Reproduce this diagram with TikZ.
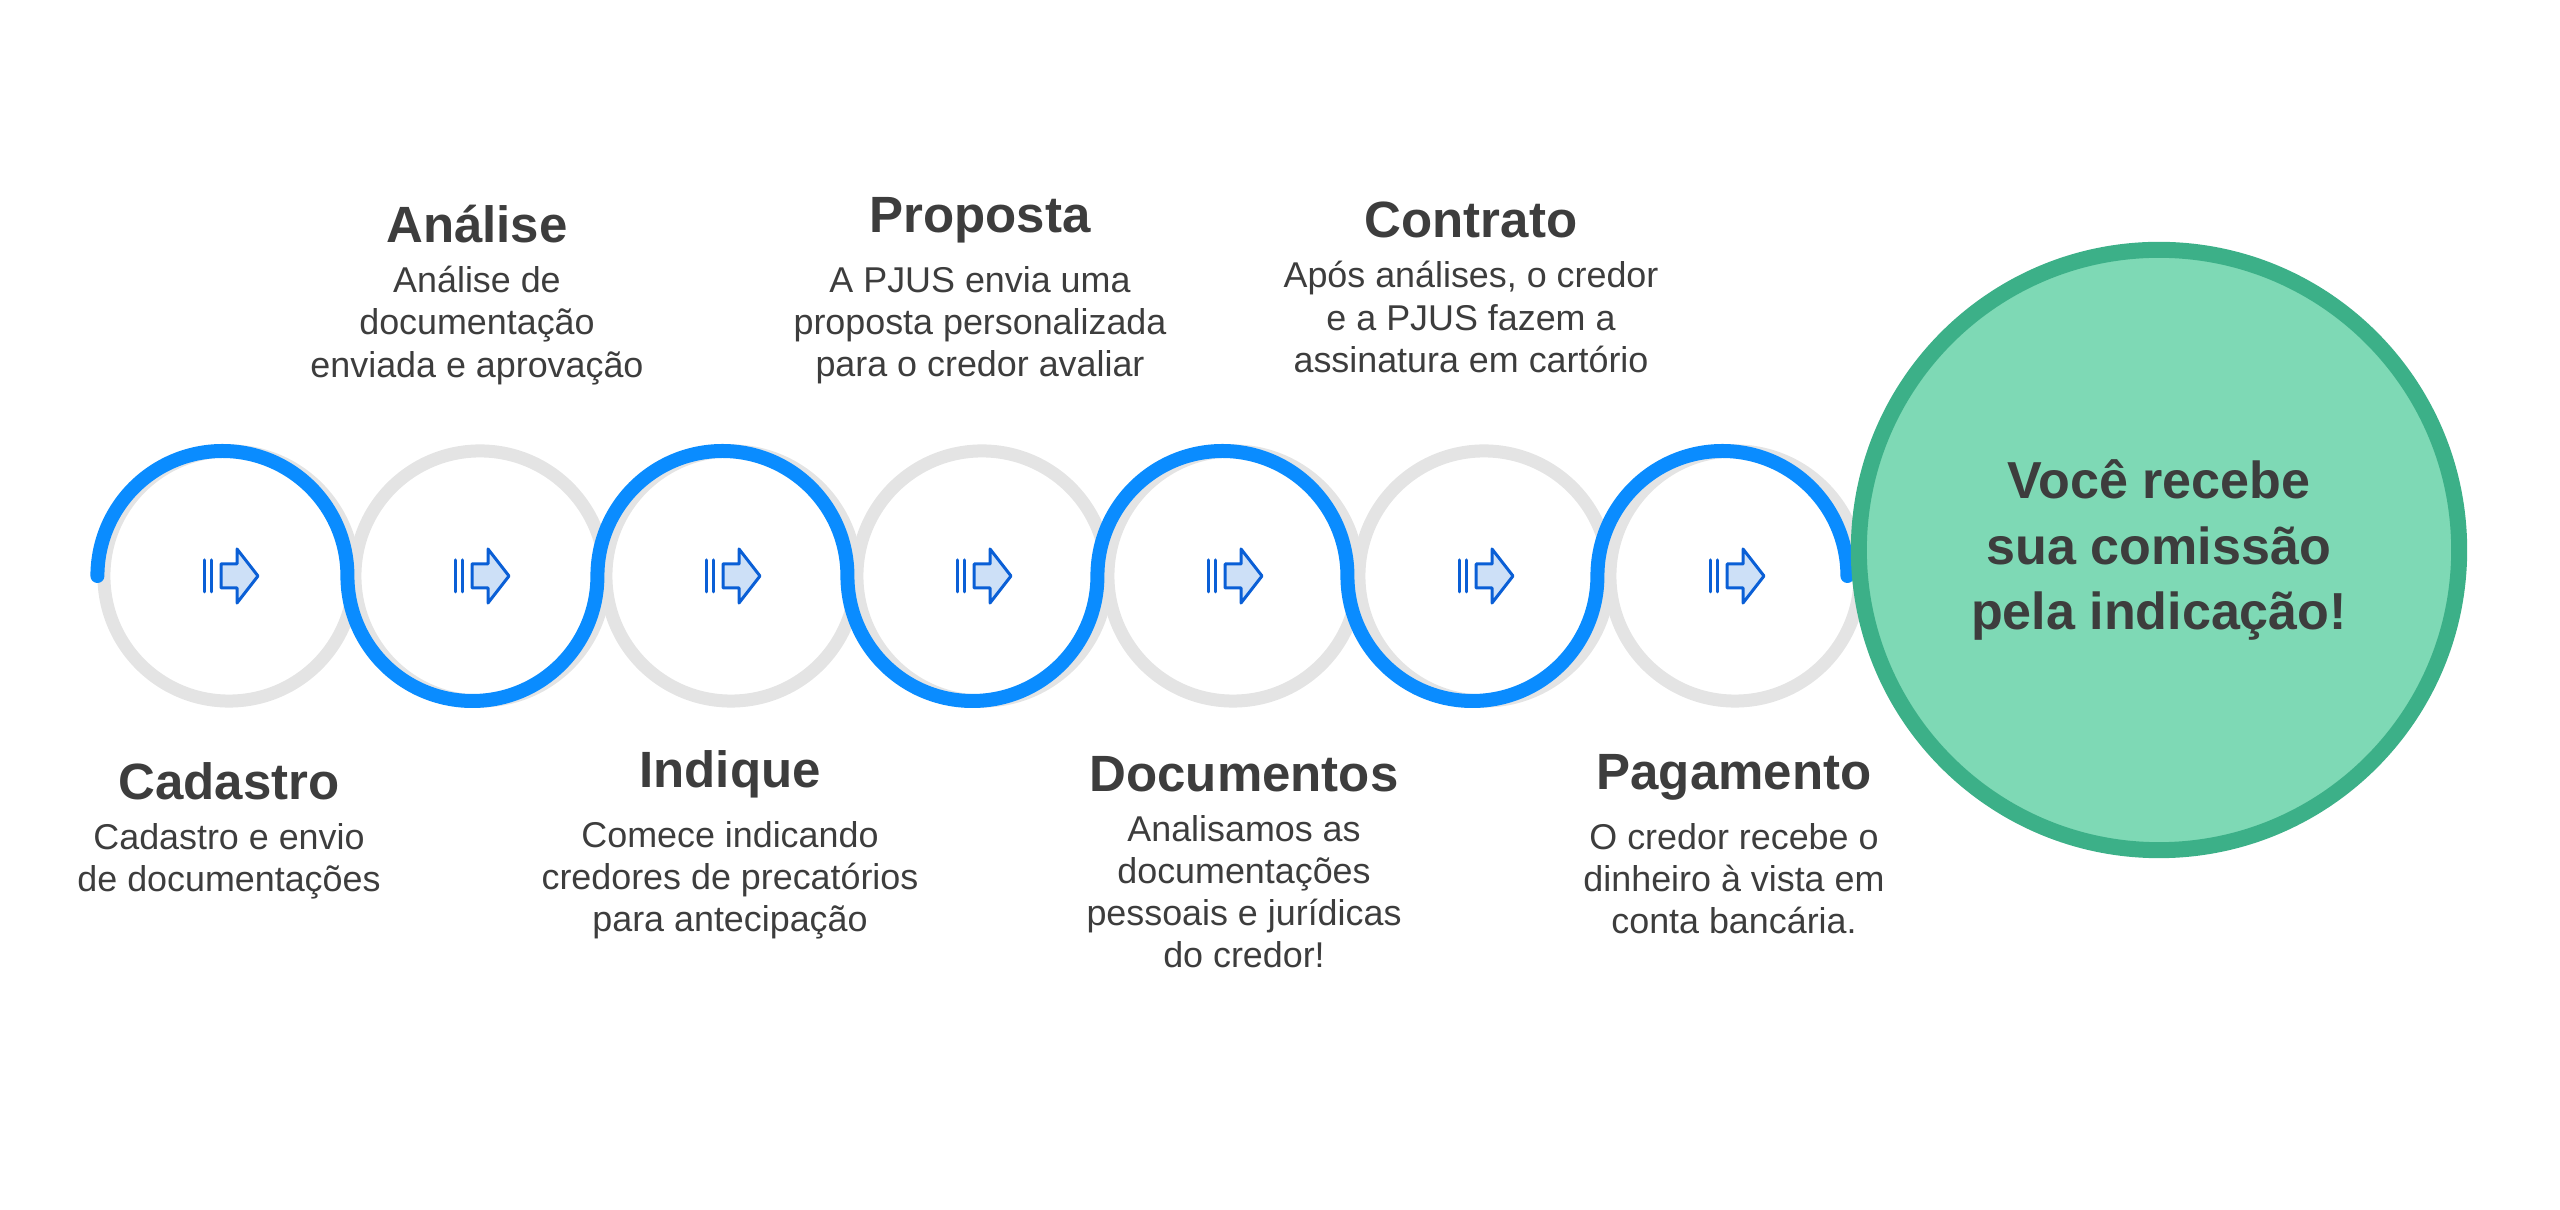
\documentclass[tikz,border=0pt]{standalone}
\usepackage{fontspec}
\setmainfont{Liberation Sans}
\usepackage{tikz}
\usetikzlibrary{positioning}

\definecolor{wave}{HTML}{0A8CFF}
\definecolor{ring}{HTML}{E4E4E4}
\definecolor{ink}{HTML}{3D3D3D}
\definecolor{icondark}{HTML}{0A5FD6}
\definecolor{iconfill}{HTML}{CDE0F7}
\definecolor{goalfill}{HTML}{7ED9B5}
\definecolor{goalline}{HTML}{3CB088}

\tikzset{
  stepring/.style={circle,draw=ring,line width=0.13cm,minimum size=2.5cm,inner sep=0},
  steptitle/.style={font=\fontsize{14.5}{16}\selectfont\bfseries,text=ink,inner sep=0},
  stepbody/.style={font=\fontsize{10.2}{12}\selectfont,text=ink,align=center,inner sep=0},
  icon/.pic={
    \draw[icondark,line width=0.03cm,line cap=round] (-25,-16) -- (-25,16) (-18,-16) -- (-18,16);
    \draw[icondark,line width=0.03cm,fill=iconfill,line join=round]
      (-8,-12) -- (8,-12) -- (8,-27) -- (29,0) -- (8,27) -- (8,12) -- (-8,12) -- cycle;
  }
}

\begin{document}
\begin{tikzpicture}[x=0.01cm,y=0.01cm]
\useasboundingbox (0,0) rectangle (2560,-1210);

\node[stepring] (c1) at (229,-576) {};
\node[stepring] (c2) at (480,-576) {};
\node[stepring] (c3) at (731,-576) {};
\node[stepring] (c4) at (982,-576) {};
\node[stepring] (c5) at (1233,-576) {};
\node[stepring] (c6) at (1484,-576) {};
\node[stepring] (c7) at (1735,-576) {};

% the wave over and under the rings
\draw[wave,line width=0.14cm,line cap=round] (c1.west)
  arc[start angle=180,end angle=0,radius=125]
  arc[start angle=180,end angle=360,radius=125]
  arc[start angle=180,end angle=0,radius=125]
  arc[start angle=180,end angle=360,radius=125]
  arc[start angle=180,end angle=0,radius=125]
  arc[start angle=180,end angle=360,radius=125]
  arc[start angle=180,end angle=0,radius=125];

\foreach \c in {c1,c2,c3,c4,c5,c6,c7}
  \pic at (\c) {icon};

\node[circle,draw=goalline,fill=goalfill,line width=0.16cm,minimum size=6cm,
  align=center,font=\fontsize{14.8}{18.6}\selectfont\bfseries,text=ink] (goal) at (2159,-550)
  {Você recebe\\sua comissão\\pela indicação!};

\node[steptitle] (t1) at (229,-781) {Cadastro};
\node[stepbody,below=0.22cm of t1] (b1) {Cadastro e envio\\de documentações};

\node[steptitle] (t2) at (477,-224) {Análise};
\node[stepbody,below=0.22cm of t2] (b2) {Análise de\\documentação\\enviada e aprovação};

\node[steptitle] (t3) at (730,-774) {Indique};
\node[stepbody,below=0.22cm of t3] (b3) {Comece indicando\\credores de precatórios\\para antecipação};

\node[steptitle] (t4) at (980,-220) {Proposta};
\node[stepbody,below=0.22cm of t4] (b4) {A PJUS envia uma\\proposta personalizada\\para o credor avaliar};

\node[steptitle] (t5) at (1244,-774) {Documentos};
\node[stepbody,below=0.22cm of t5] (b5) {Analisamos as\\documentações\\pessoais e jurídicas\\do credor!};

\node[steptitle] (t6) at (1471,-220) {Contrato};
\node[stepbody,below=0.22cm of t6] (b6) {Após análises, o credor\\e a PJUS fazem a\\assinatura em cartório};

\node[steptitle] (t7) at (1734,-777) {Pagamento};
\node[stepbody,below=0.22cm of t7] (b7) {O credor recebe o\\dinheiro à vista em\\conta bancária.};

\end{tikzpicture}
\end{document}
